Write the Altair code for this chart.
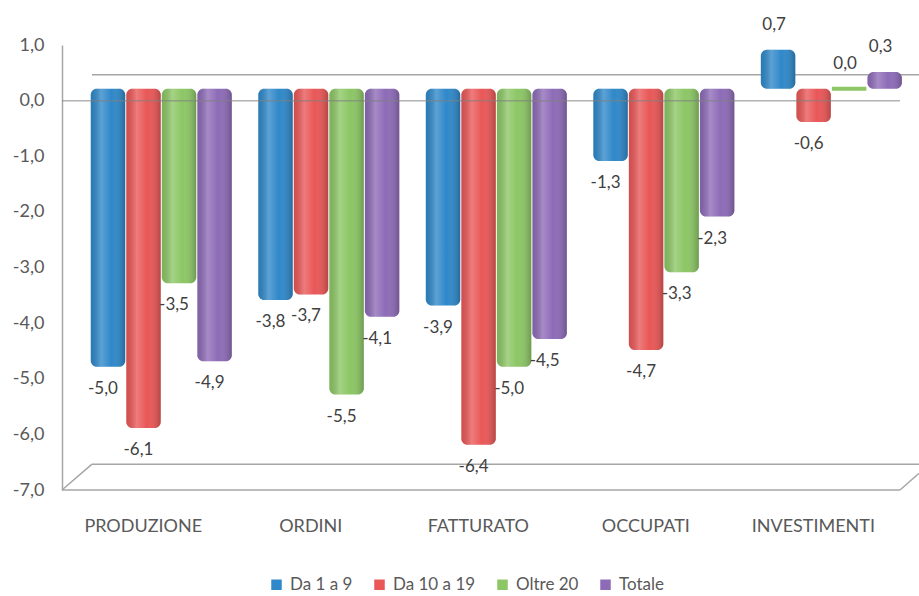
import altair as alt
import pandas as pd

# Indicator categories and size classes
categories = ["PRODUZIONE", "ORDINI", "FATTURATO", "OCCUPATI", "INVESTIMENTI"]
series = ["Da 1 a 9", "Da 10 a 19", "Oltre 20", "Totale"]

# Values per size class (one per category)
da_1_a_9 = [-5.0, -3.8, -3.9, -1.3, 0.7]
da_10_a_19 = [-6.1, -3.7, -6.4, -4.7, -0.6]
oltre_20 = [-3.5, -5.5, -5.0, -3.3, 0.0]
totale = [-4.9, -4.1, -4.5, -2.3, 0.3]

y_ticks = [-7, -6, -5, -4, -3, -2, -1, 0, 1]
colors = ["#2f88c9", "#e95757", "#8cc665", "#8d6bb7"]

rows = []
for s, vals in zip(series, [da_1_a_9, da_10_a_19, oltre_20, totale]):
    for c, v in zip(categories, vals):
        rows.append({
            "categoria": c,
            "serie": s,
            "valore": v,
            "etichetta": f"{v:.1f}".replace(".", ","),
        })
df = pd.DataFrame(rows)
cat_df = pd.DataFrame({"categoria": categories})

FONT = "Lato"
GRAY_TXT = "#595959"
LINE = "#a6a6a6"

x_scale = alt.Scale(domain=categories, paddingInner=0.158, paddingOuter=0.11, align=0.78)
x_enc = alt.X("categoria:N", sort=categories, scale=x_scale, axis=None)
xoff_enc = alt.XOffset("serie:N", sort=series, scale=alt.Scale(paddingInner=0.03))
y_enc = alt.Y(
    "valore:Q",
    scale=alt.Scale(domain=[-7, 1], nice=False),
    axis=alt.Axis(
        title=None, values=y_ticks, grid=False, ticks=False,
        domainColor=LINE, domainWidth=1.5, labelPadding=18,
        labelFont=FONT, labelFontSize=18, labelColor=GRAY_TXT,
        labelExpr="replace(replace(format(datum.value, '.1f'), '.', ','), '\u2212', '-')",
    ),
)

base = alt.Chart(df)

one = pd.DataFrame({"k": [0]})


def rule(x1, x2, y1, y2):
    return alt.Chart(one).mark_rule(color=LINE, strokeWidth=1.5).encode(
        x=alt.value(x1), x2=alt.value(x2), y=alt.datum(y1), y2=alt.datum(y2)
    )


# Back wall and floor outline
back_zero = rule(30, 857, 0.465, 0.465)
back_floor = rule(30, 857, -6.535, -6.535)
front_floor = rule(0, 838, -7, -7)
left_diag = rule(0, 30, -7, -6.535)
right_diag = rule(838, 857, -7, -6.70)

bars = base.mark_bar(cornerRadius=6, yOffset=-12, y2Offset=-12).encode(
    x=x_enc,
    xOffset=xoff_enc,
    y=y_enc,
    y2=alt.datum(0),
    color=alt.Color(
        "serie:N",
        sort=series,
        scale=alt.Scale(domain=series, range=colors),
        legend=alt.Legend(
            orient="none", legendX=206, legendY=531, direction="horizontal",
            title=None, symbolType="square", symbolSize=110, symbolStrokeWidth=0,
            labelFont=FONT, labelFontSize=17, labelColor=GRAY_TXT,
            columnPadding=18, labelOffset=5, padding=0,
        ),
    ),
    stroke=alt.Stroke("serie:N", scale=alt.Scale(domain=series, range=colors), legend=None),
    strokeWidth=alt.condition("datum.valore == 0", alt.value(4), alt.value(0)),
)

# Cylinder-like shading on top of each bar
shade = base.mark_bar(
    cornerRadius=6, yOffset=-12, y2Offset=-12,
    fill=alt.Gradient(
        gradient="linear",
        stops=[
            alt.GradientStop(color="rgba(0,0,0,0.10)", offset=0),
            alt.GradientStop(color="rgba(255,255,255,0.22)", offset=0.3),
            alt.GradientStop(color="rgba(255,255,255,0.0)", offset=0.6),
            alt.GradientStop(color="rgba(0,0,0,0.22)", offset=1),
        ],
        x1=0, x2=1, y1=0, y2=0,
    ),
).encode(x=x_enc, xOffset=xoff_enc, y=y_enc, y2=alt.datum(0))

front_zero = alt.Chart(one).mark_rule(color="#808080", strokeWidth=1.5, opacity=0.6).encode(
    x=alt.value(0), x2=alt.value(838), y=alt.datum(0)
)

labels_neg = base.transform_filter("datum.valore < 0").mark_text(
    font=FONT, fontSize=17, color="#404040", baseline="middle", dy=10, dx=-5
).encode(x=x_enc, xOffset=xoff_enc, y=y_enc, text="etichetta:N")

labels_pos = base.transform_filter("datum.valore >= 0").mark_text(
    font=FONT, fontSize=17, color="#404040", baseline="middle", dy=-37, dx=-4
).encode(x=x_enc, xOffset=xoff_enc, y=y_enc, text="etichetta:N")

# Category names along the bottom, set slightly left of each group
cat_labels = alt.Chart(cat_df).mark_text(
    font=FONT, fontSize=18, color=GRAY_TXT, baseline="middle", dx=-18
).encode(x=x_enc, y=alt.value(482), text="categoria:N")

chart = alt.layer(
    back_zero, back_floor, front_floor, left_diag, right_diag,
    bars, shade, front_zero, labels_neg, labels_pos, cat_labels,
).properties(
    width=848,
    height=445,
    autosize=alt.AutoSizeParams(type="none"),
    padding={"left": 62, "top": 45, "right": 9, "bottom": 106},
    background="white",
).configure_view(stroke=None)

chart.save("out.html", embed_options={"renderer": "svg", "actions": False})
